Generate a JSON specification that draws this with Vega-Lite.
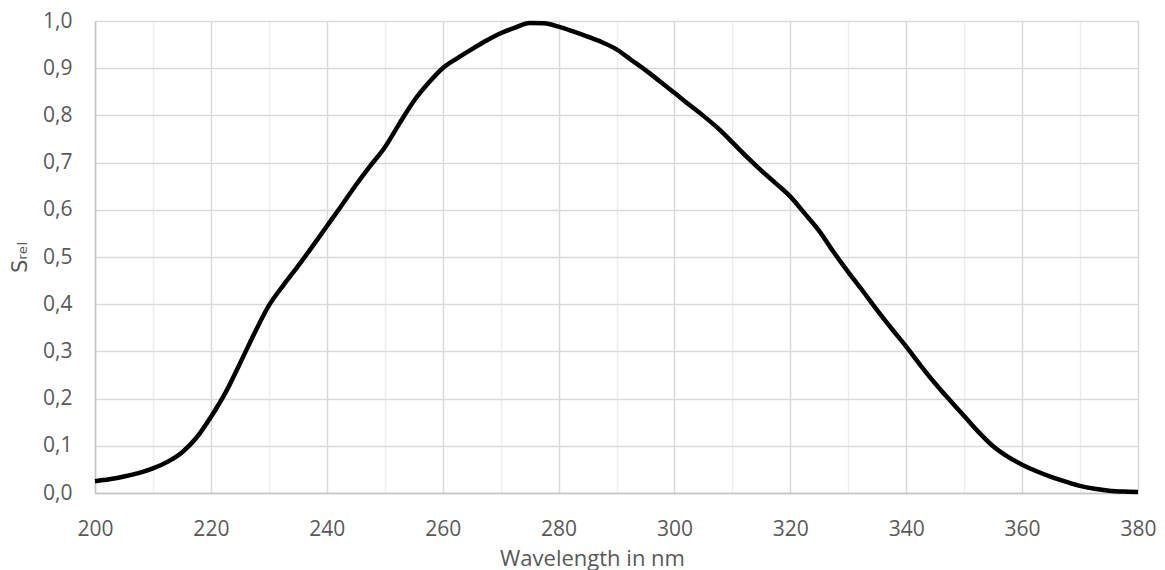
{
  "$schema": "https://vega.github.io/schema/vega-lite/v6.json",
  "autosize": {"type": "none"},
  "padding": {"left": 95, "top": 21, "right": 27, "bottom": 77},
  "width": 1043,
  "height": 472,
  "background": "white",
  "config": {
    "view": {"stroke": null},
    "font": "Open Sans",
    "axis": {
      "labelFont": "Open Sans",
      "titleFont": "Open Sans",
      "labelColor": "#595959",
      "titleColor": "#595959",
      "labelFontSize": 21,
      "titleFontSize": 22,
      "titleFontWeight": "normal",
      "ticks": false,
      "domainColor": "#c4c4c4",
      "domainWidth": 1.5
    }
  },
  "data": {
    "values": [
      {"wl": 200, "s": 0.025},
      {"wl": 202.5, "s": 0.029},
      {"wl": 205, "s": 0.035},
      {"wl": 207.5, "s": 0.042},
      {"wl": 210, "s": 0.052},
      {"wl": 212.5, "s": 0.066},
      {"wl": 215, "s": 0.086},
      {"wl": 217.5, "s": 0.117},
      {"wl": 220, "s": 0.161},
      {"wl": 222.5, "s": 0.212},
      {"wl": 225, "s": 0.274},
      {"wl": 227.5, "s": 0.338},
      {"wl": 230, "s": 0.397},
      {"wl": 232.5, "s": 0.44},
      {"wl": 235, "s": 0.48},
      {"wl": 237.5, "s": 0.522},
      {"wl": 240, "s": 0.565},
      {"wl": 242.5, "s": 0.608},
      {"wl": 245, "s": 0.652},
      {"wl": 247.5, "s": 0.693},
      {"wl": 250, "s": 0.732},
      {"wl": 252.5, "s": 0.782},
      {"wl": 255, "s": 0.83},
      {"wl": 257.5, "s": 0.868},
      {"wl": 260, "s": 0.9},
      {"wl": 262.5, "s": 0.921},
      {"wl": 265, "s": 0.94},
      {"wl": 267.5, "s": 0.958},
      {"wl": 270, "s": 0.974},
      {"wl": 272.5, "s": 0.986},
      {"wl": 275, "s": 0.996},
      {"wl": 277.5, "s": 0.995},
      {"wl": 280, "s": 0.988},
      {"wl": 282.5, "s": 0.978},
      {"wl": 285, "s": 0.967},
      {"wl": 287.5, "s": 0.955},
      {"wl": 290, "s": 0.94},
      {"wl": 292.5, "s": 0.918},
      {"wl": 295, "s": 0.896},
      {"wl": 297.5, "s": 0.872},
      {"wl": 300, "s": 0.848},
      {"wl": 302.5, "s": 0.823},
      {"wl": 305, "s": 0.799},
      {"wl": 307.5, "s": 0.773},
      {"wl": 310, "s": 0.743},
      {"wl": 312.5, "s": 0.712},
      {"wl": 315, "s": 0.683},
      {"wl": 317.5, "s": 0.656},
      {"wl": 320, "s": 0.628},
      {"wl": 322.5, "s": 0.592},
      {"wl": 325, "s": 0.555},
      {"wl": 327.5, "s": 0.51},
      {"wl": 330, "s": 0.468},
      {"wl": 332.5, "s": 0.428},
      {"wl": 335, "s": 0.387},
      {"wl": 337.5, "s": 0.348},
      {"wl": 340, "s": 0.31},
      {"wl": 342.5, "s": 0.27},
      {"wl": 345, "s": 0.232},
      {"wl": 347.5, "s": 0.197},
      {"wl": 350, "s": 0.163},
      {"wl": 352.5, "s": 0.129},
      {"wl": 355, "s": 0.099},
      {"wl": 357.5, "s": 0.077},
      {"wl": 360, "s": 0.06},
      {"wl": 362.5, "s": 0.046},
      {"wl": 365, "s": 0.034},
      {"wl": 367.5, "s": 0.024},
      {"wl": 370, "s": 0.015},
      {"wl": 372.5, "s": 0.009},
      {"wl": 375, "s": 0.005},
      {"wl": 377.5, "s": 0.003},
      {"wl": 380, "s": 0.002}
    ]
  },
  "mark": {"type": "line", "color": "black", "strokeWidth": 4.5, "interpolate": "monotone", "strokeCap": "butt"},
  "encoding": {
    "x": {
      "field": "wl",
      "type": "quantitative",
      "scale": {"domain": [200, 380], "nice": false, "zero": false},
      "axis": {
        "title": "Wavelength in nm",
        "values": [200, 210, 220, 230, 240, 250, 260, 270, 280, 290, 300, 310, 320, 330, 340, 350, 360, 370, 380],
        "labelExpr": "datum.value % 20 === 0 ? datum.label : ''",
        "labelFlush": false,
        "labelPadding": 25,
        "titleX": 497,
        "titleY": 72,
        "titleBaseline": "alphabetic",
        "grid": true,
        "gridColor": {"condition": {"test": "datum.value % 20 === 0", "value": "#d9d9d9"}, "value": "#ededed"},
        "gridWidth": 1.5
      }
    },
    "y": {
      "field": "s",
      "type": "quantitative",
      "scale": {"domain": [0, 1], "nice": false},
      "axis": {
        "title": "Sᵣₑₗ",
        "titleFont": "DejaVu Sans",
        "titleFontSize": 21,
        "values": [0, 0.1, 0.2, 0.3, 0.4, 0.5, 0.6, 0.7, 0.8, 0.9, 1.0],
        "labelExpr": "replace(format(datum.value, '.1f'), '.', ',')",
        "labelPadding": 23,
        "titlePadding": 12,
        "grid": true,
        "gridColor": "#d9d9d9",
        "gridWidth": 1.5
      }
    }
  }
}
